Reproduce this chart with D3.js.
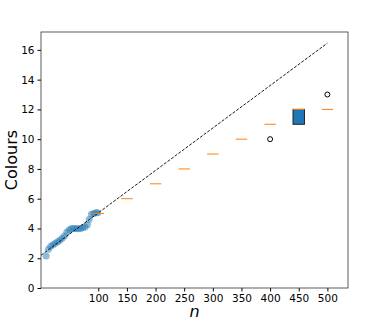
<!DOCTYPE html>
<html>
<head>
<meta charset="utf-8">
<script src="https://cdn.jsdelivr.net/npm/d3@7"></script>
<style>
  body { margin: 0; background: #fff; }
  svg { font-family: "DejaVu Sans", sans-serif; }
</style>
</head>
<body>
<svg id="chart" width="380" height="323"></svg>
<script>
// small-n runs (scatter)
var smallN = [9, 13, 17, 21, 25, 29, 33, 37, 41, 45, 49, 53, 57, 61, 65, 69, 73, 77, 81, 84, 88, 92, 96, 99];
var smallColours = [2.15, 2.6, 2.8, 2.9, 3.0, 3.1, 3.2, 3.35, 3.5, 3.75, 3.9, 4.0, 4.0, 4.0, 3.98, 4.0, 4.05, 4.1, 4.25, 4.6, 4.95, 5.0, 5.05, 5.05];

// larger n runs (boxes)
var boxN = [100, 150, 200, 250, 300, 350, 400, 450, 500];
var boxQ1 = [5, 6, 7, 8, 9, 10, 11, 11, 12];
var boxMed = [5, 6, 7, 8, 9, 10, 11, 12, 12];
var boxQ3 = [5, 6, 7, 8, 9, 10, 11, 12, 12];
var outN = [400, 500];
var outV = [10, 13];

// dashed trend line
var fitN = [0, 500];
var fitV = [2.2, 16.45];

var xTicks = [100, 150, 200, 250, 300, 350, 400, 450, 500];
var yTicks = [0, 2, 4, 6, 8, 10, 12, 14, 16];

var svg = d3.select("#chart"),
    margin = {top: 32, left: 41, bottom: 35, right: 32},
    width = 380,
    height = 323;

var x = d3.scaleLinear()
    .domain([0, 536])
    .range([margin.left, width - margin.right]);

var y = d3.scaleLinear()
    .domain([0, 17.2])
    .range([height - margin.bottom, margin.top]);

var boxW = 20;

// scatter
svg.append("g").selectAll("circle")
    .data(smallN)
    .enter().append("circle")
    .attr("cx", d => x(d))
    .attr("cy", (d, i) => y(smallColours[i]))
    .attr("r", 3.5)
    .attr("fill", "#1f77b4")
    .attr("fill-opacity", 0.5);

// trend line
svg.append("line")
    .attr("x1", x(fitN[0])).attr("y1", y(fitV[0]))
    .attr("x2", x(fitN[1])).attr("y2", y(fitV[1]))
    .attr("stroke", "#000")
    .attr("stroke-width", 0.9)
    .attr("stroke-dasharray", "3,1.5");

// boxes
var boxes = svg.append("g").selectAll("g")
    .data(boxN)
    .enter().append("g");

boxes.filter((d, i) => boxQ3[i] > boxQ1[i])
    .append("rect")
    .attr("x", d => x(d - boxW / 2))
    .attr("y", d => y(boxQ3[boxN.indexOf(d)]))
    .attr("width", x(boxW) - x(0))
    .attr("height", d => y(boxQ1[boxN.indexOf(d)]) - y(boxQ3[boxN.indexOf(d)]))
    .attr("fill", "#1f77b4")
    .attr("stroke", "#222")
    .attr("stroke-width", 1);

boxes.append("line")
    .attr("x1", d => x(d - boxW / 2))
    .attr("x2", d => x(d + boxW / 2))
    .attr("y1", (d, i) => y(boxMed[i]))
    .attr("y2", (d, i) => y(boxMed[i]))
    .attr("stroke", "#ff7f0e")
    .attr("stroke-width", 1);

// outliers
svg.append("g").selectAll("circle")
    .data(outN)
    .enter().append("circle")
    .attr("cx", d => x(d))
    .attr("cy", (d, i) => y(outV[i]))
    .attr("r", 2.5)
    .attr("fill", "none")
    .attr("stroke", "#000")
    .attr("stroke-width", 1);

// axes
svg.append("g")
    .attr("transform", `translate(0,${height - margin.bottom})`)
    .call(d3.axisBottom(x).tickValues(xTicks).tickSize(3.5).tickSizeOuter(0));

svg.append("g")
    .attr("transform", `translate(${margin.left},0)`)
    .call(d3.axisLeft(y).tickValues(yTicks).tickSize(3.5).tickSizeOuter(0));

svg.selectAll(".tick text")
    .attr("font-size", 10.5)
    .attr("font-family", "DejaVu Sans, sans-serif")
    .attr("fill", "#000");
svg.selectAll(".domain").remove();

// frame
svg.append("rect")
    .attr("x", margin.left)
    .attr("y", margin.top)
    .attr("width", width - margin.right - margin.left)
    .attr("height", height - margin.bottom - margin.top)
    .attr("fill", "none")
    .attr("stroke", "#333")
    .attr("stroke-width", 0.8);

svg.append("text")
    .attr("x", (margin.left + width - margin.right) / 2)
    .attr("y", 317)
    .attr("text-anchor", "middle")
    .attr("font-size", 16)
    .attr("font-style", "italic")
    .text("n");

svg.append("text")
    .attr("transform", `translate(17,${(margin.top + height - margin.bottom) / 2}) rotate(-90)`)
    .attr("text-anchor", "middle")
    .attr("font-size", 16)
    .text("Colours");
</script>
</body>
</html>
